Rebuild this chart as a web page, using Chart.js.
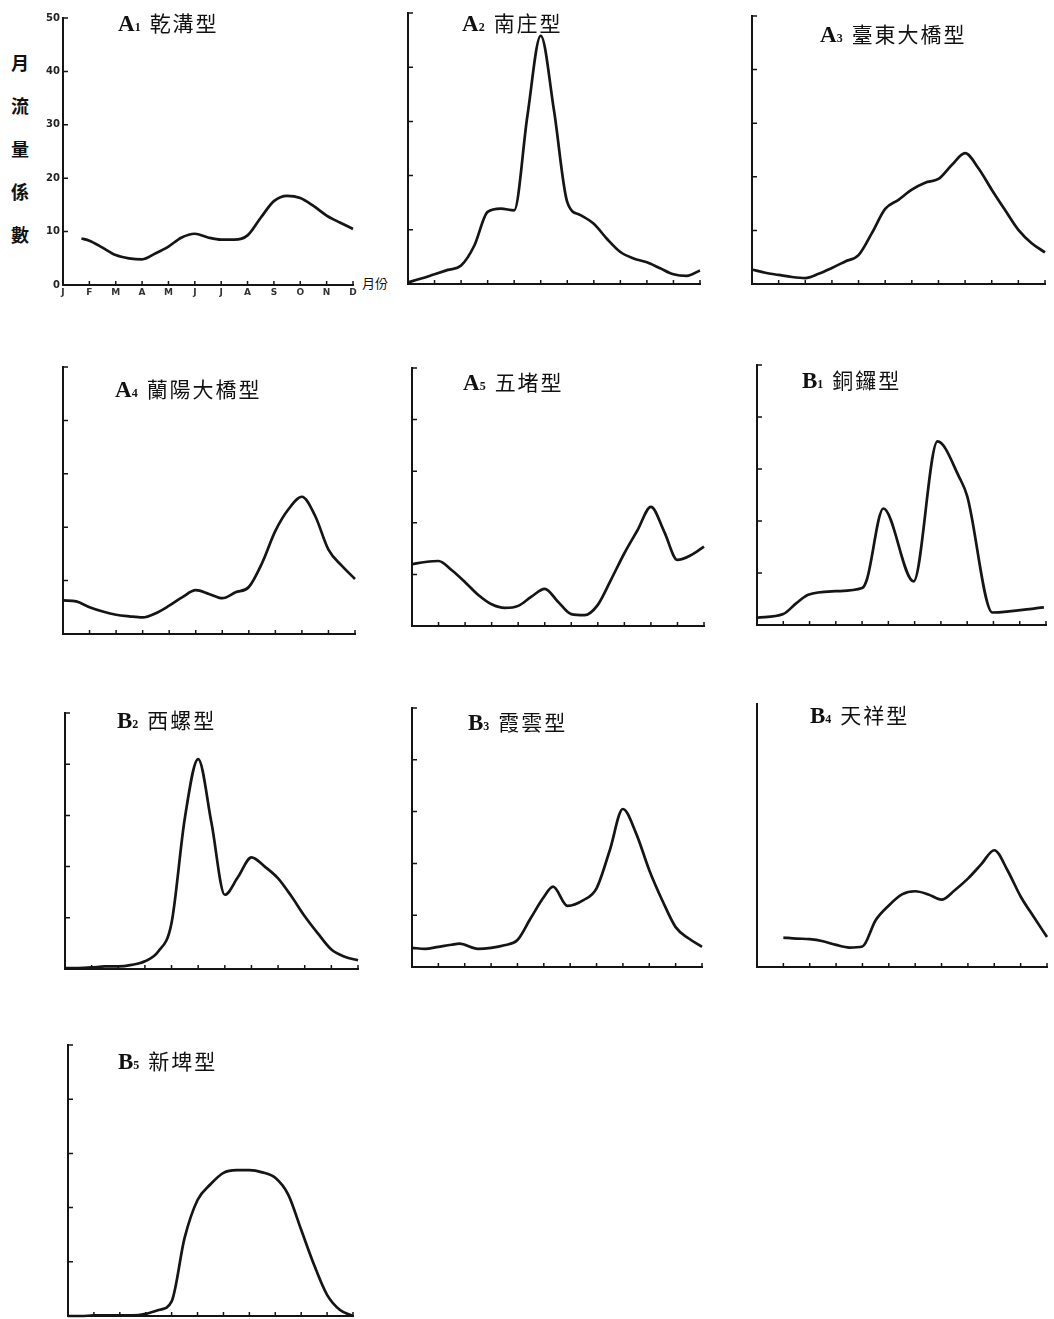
<!DOCTYPE html>
<html>
<head>
<meta charset="utf-8">
<title>月流量係數</title>
<script src="https://cdn.jsdelivr.net/npm/chart.js@4.4.0/dist/chart.umd.min.js"></script>
<style>
  body { margin: 0; background: #fff; }
  #page { position: relative; width: 1054px; height: 1319px; overflow: hidden; background: #fff; }
  .panel { position: absolute; }
  .title {
    position: absolute; white-space: nowrap; color: #111;
    font-family: "Noto Sans CJK TC", "Noto Sans CJK SC", sans-serif;
    font-size: 21px; line-height: 26px; letter-spacing: 2px;
  }
  .title .code { font-family: "Liberation Serif", "DejaVu Serif", serif; font-weight: bold; font-size: 23px; letter-spacing: 0; }
  .title .sub { font-family: "Liberation Serif", "DejaVu Serif", serif; font-weight: bold; font-size: 12px; margin-right: 9px; letter-spacing: 0; }
  #ylabel {
    position: absolute; left: 7px; top: 54px; color: #111;
    font-family: "Noto Sans CJK TC", sans-serif; font-weight: bold;
    font-size: 18px; letter-spacing: 25px; writing-mode: vertical-rl;
  }
  #xunit {
    position: absolute; left: 362px; top: 273px; color: #111;
    font-family: "Noto Sans CJK TC", sans-serif; font-size: 13px;
  }
</style>
</head>
<body>
<div id="page">
  <div id="ylabel">月流量係數</div>
  <div id="xunit">月份</div>
</div>

<script>
// months on the x axis (J..D), y ticks 0..50
const months = ['J', 'F', 'M', 'A', 'M', 'J', 'J', 'A', 'S', 'O', 'N', 'D'];
const monthIndex = [0, 1, 2, 3, 4, 5, 6, 7, 8, 9, 10, 11];
const yTicks = [0, 10, 20, 30, 40, 50];

// sample positions (in months) used by most curves
const halfMonths = [0, 0.5, 1, 1.5, 2, 2.5, 3, 3.5, 4, 4.5, 5, 5.5, 6, 6.5, 7, 7.5, 8, 8.5, 9, 9.5, 10, 10.5, 11];

// panel names
const panelCodes = ['A', 'A', 'A', 'A', 'A', 'B', 'B', 'B', 'B', 'B'];
const panelNums = ['1', '2', '3', '4', '5', '1', '2', '3', '4', '5'];
const panelNames = ['乾溝型', '南庄型', '臺東大橋型', '蘭陽大橋型', '五堵型', '銅鑼型', '西螺型', '霞雲型', '天祥型', '新埤型'];

// monthly flow coefficient curves
const a1Months = [0.7, 1, 1.5, 2, 2.5, 3, 3.5, 4, 4.5, 5, 5.5, 6, 6.5, 7, 7.5, 8, 8.5, 9, 9.5, 10, 10.5, 11];
const a1Flow = [8.7, 8.3, 7.0, 5.6, 5.0, 4.8, 5.9, 7.2, 8.9, 9.6, 8.9, 8.5, 8.5, 9.3, 12.6, 15.7, 16.7, 16.3, 14.8, 13.0, 11.7, 10.5];
const a2Flow = [0.3, 1.0, 1.8, 2.6, 3.4, 7.1, 13.3, 13.9, 13.6, 31.1, 45.8, 32.0, 15.1, 12.7, 11.1, 8.3, 5.9, 4.7, 4.0, 2.9, 1.8, 1.5, 2.5];
const a3Flow = [2.7, 2.1, 1.7, 1.3, 1.1, 1.9, 3.0, 4.2, 5.4, 9.5, 14.0, 15.7, 17.6, 18.9, 19.6, 22.2, 24.4, 21.6, 17.6, 13.8, 10.1, 7.6, 5.9];
const a4Flow = [6.3, 6.1, 5.0, 4.2, 3.6, 3.3, 3.1, 3.9, 5.3, 6.9, 8.2, 7.5, 6.7, 7.8, 8.8, 13.3, 19.3, 23.4, 25.7, 22.1, 15.8, 12.8, 10.3];
const a5Flow = [12.0, 12.4, 12.6, 10.8, 8.5, 6.0, 4.2, 3.5, 3.9, 5.7, 7.2, 4.7, 2.3, 2.1, 4.1, 9.0, 14.1, 18.6, 23.1, 18.3, 12.8, 13.7, 15.4];
const b1Months = [0, 1, 1.5, 1.95, 3, 4, 4.18, 4.81, 5.96, 6.87, 7.7, 8.0, 8.96, 10.92];
const b1Flow = [1.4, 2.1, 4.2, 5.8, 6.5, 7.1, 8.7, 22.4, 8.4, 35.3, 28.4, 24.8, 2.4, 3.4];
const b2Flow = [0.2, 0.2, 0.3, 0.5, 0.5, 0.8, 1.5, 3.4, 9.0, 29.5, 41.0, 28.5, 14.5, 18.0, 21.8, 20.0, 17.7, 14.2, 10.3, 6.9, 3.8, 2.4, 1.7];
const b3Months = [0, 0.5, 1, 1.5, 1.8, 2.5, 3, 3.5, 4, 4.5, 5, 5.35, 5.9, 6.5, 7, 7.5, 8, 8.5, 9, 9.5, 10, 10.5, 11];
const b3Flow = [3.7, 3.5, 3.9, 4.3, 4.5, 3.5, 3.7, 4.2, 5.2, 9.4, 13.5, 15.5, 11.8, 12.9, 15.2, 22.5, 30.5, 25.8, 18.7, 12.8, 7.7, 5.5, 3.9];
const b4Flow = [null, null, 5.6, 5.4, 5.3, 4.9, 4.2, 3.7, 3.9, 8.9, 11.7, 13.8, 14.4, 13.8, 12.8, 14.6, 16.8, 19.5, 22.2, 18.4, 13.4, 9.5, 5.7];
const b5Flow = [0, 0, 0.1, 0.1, 0.1, 0.1, 0.4, 1.1, 2.7, 14.4, 21.4, 24.3, 26.4, 26.9, 26.9, 26.5, 25.5, 22.4, 15.9, 9.4, 3.9, 1.1, 0];

const panelMonths = [a1Months, halfMonths, halfMonths, halfMonths, halfMonths, b1Months, halfMonths, b3Months, halfMonths, halfMonths];
const panelFlow = [a1Flow, a2Flow, a3Flow, a4Flow, a5Flow, b1Flow, b2Flow, b3Flow, b4Flow, b5Flow];

// plot boxes on the page: [left, top(=50), right(=D), bottom(=0)]
const boxes = [
  [63, 15, 353, 285], [408, 13, 700, 284], [752, 16, 1045, 284],
  [63, 367, 355, 634], [412, 368, 704, 626], [757, 365, 1046, 625],
  [65, 713, 358, 969], [412, 708, 702, 967], [757, 704, 1047, 967],
  [68, 1045, 353, 1316]
];
// title positions: [left, centre y]
const titlePos = [
  [118, 22], [462, 22], [820, 33], [115, 388], [463, 381],
  [802, 379], [117, 719], [468, 721], [810, 714], [118, 1060]
];

const ink = '#151515';

// short inward tick marks on both axes
const tickMarks = {
  id: 'tickMarks',
  afterDraw(chart, args, opts) {
    const { ctx, scales: { x, y } } = chart;
    ctx.save();
    ctx.strokeStyle = ink;
    ctx.lineWidth = 1.5;
    ctx.beginPath();
    monthIndex.forEach(m => {
      if (m === 0) return;
      const px = x.getPixelForValue(m);
      ctx.moveTo(px, y.bottom);
      ctx.lineTo(px, y.bottom - 4);
    });
    if (opts.yMarks) {
      yTicks.forEach(v => {
        if (v === 0) return;
        const py = y.getPixelForValue(v);
        ctx.moveTo(x.left, py);
        ctx.lineTo(x.left + 5, py);
      });
    }
    ctx.stroke();
    ctx.restore();
  }
};

const page = document.getElementById('page');
const pad = 6;

boxes.forEach((box, i) => {
  const [left, top, right, bottom] = box;
  const withLabels = i === 0;
  const extraL = withLabels ? 24 : 0;
  const extraB = withLabels ? 14 : 0;

  const w = right - left + 2 * pad + extraL;
  const h = bottom - top + 2 * pad + extraB;
  const canvas = document.createElement('canvas');
  canvas.className = 'panel';
  canvas.width = w;
  canvas.height = h;
  canvas.style.width = w + 'px';
  canvas.style.height = h + 'px';
  canvas.style.left = (left - pad - extraL) + 'px';
  canvas.style.top = (top - pad) + 'px';
  page.appendChild(canvas);

  // title as html text
  const t = document.createElement('div');
  t.className = 'title';
  t.style.left = titlePos[i][0] + 'px';
  t.style.top = (titlePos[i][1] - 13) + 'px';
  t.innerHTML = '<span class="code">' + panelCodes[i] + '</span><span class="sub">' + panelNums[i] + '</span>' + panelNames[i];
  page.appendChild(t);

  const xs = panelMonths[i];
  const ys = panelFlow[i];
  const points = xs.map((m, k) => ({ x: m, y: ys[k] }));

  new Chart(canvas.getContext('2d'), {
    type: 'line',
    data: {
      datasets: [{
        data: points,
        borderColor: ink,
        borderWidth: 2.7,
        pointRadius: 0,
        fill: false,
        cubicInterpolationMode: 'monotone',
        clip: 6
      }]
    },
    options: {
      responsive: false,
      animation: false,
      events: [],
      layout: { padding: { left: pad, right: pad, top: pad, bottom: pad } },
      plugins: {
        legend: { display: false },
        tooltip: { enabled: false },
        tickMarks: { yMarks: i !== 8 }
      },
      scales: {
        x: {
          type: 'linear',
          min: 0,
          max: 11,
          grid: { display: true, drawOnChartArea: false, drawTicks: false },
          border: { display: true, color: ink, width: 2 },
          ticks: {
            display: withLabels,
            stepSize: 1,
            autoSkip: false,
            padding: 2,
            color: '#333',
            font: { family: 'DejaVu Sans', size: 9, weight: 'bold' },
            callback: v => months[v]
          },
          afterFit: s => { s.height = extraB; }
        },
        y: {
          min: 0,
          max: 50,
          grid: { display: true, drawOnChartArea: false, drawTicks: false },
          border: { display: true, color: ink, width: 2 },
          ticks: {
            display: withLabels,
            stepSize: 10,
            padding: 3,
            color: '#222',
            font: { family: 'DejaVu Sans', size: 10, weight: 'bold' }
          },
          afterFit: s => { s.width = extraL; }
        }
      }
    },
    plugins: [tickMarks]
  });
});
</script>
</body>
</html>
